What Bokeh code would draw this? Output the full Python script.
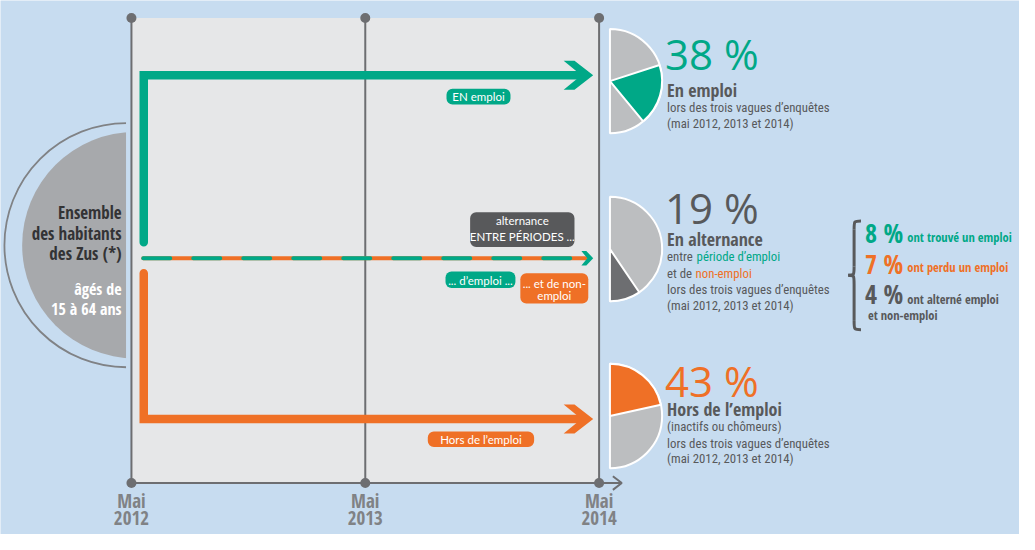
import re
from bokeh.plotting import figure
from bokeh.models import Range1d, BoxAnnotation
from bokeh.core.properties import value
from bokeh.embed import file_html
from bokeh.resources import INLINE

# ---------------- data ----------------
years = [2012, 2013, 2014]
group_names = ["En emploi", "En alternance", "Hors de l’emploi"]
group_pct = [38, 19, 43]
sub_pct = [8, 7, 4]
sub_labels = ["ont trouvé un emploi", "ont perdu un emploi", "ont alterné emploi"]

# ---------------- style ----------------
BG = "#c7dcf0"
PANEL = "#e6e7e8"
AXIS = "#6d6e71"
GREEN = "#00a887"
ORANGE = "#ef7026"
DGREY = "#58595b"
LGREY = "#bcbec0"
MGREY = "#a7a9ac"
DARKW = "#6d6e71"
LABG = "#808285"
F_BOLD = "Open Sans Condensed"
F_TXT = "Roboto Condensed"
F_BOX = "Lato"
REG = "Open Sans"

p = figure(width=1019, height=534, x_range=Range1d(0, 1035), y_range=Range1d(550, 0),
           output_backend="svg", toolbar_location=None, min_border=0,
           x_axis_location=None, y_axis_location=None)
p.grid.visible = False
p.outline_line_color = None
p.background_fill_color = BG
p.border_fill_color = BG


def txt(x, y, s, size, color, font, style="normal", align="left", top=False):
    r = p.text(x=[x], y=[y], text=[s], text_font=value(font), text_font_size=f"{size}px",
               text_color=color, text_font_style=style, text_align=align, text_baseline="middle")
    if top:
        r.level = "overlay"
    return r


# timeline geometry
x0, x1 = 133, 608
xs = [x0 + (y - years[0]) * (x1 - x0) / (years[-1] - years[0]) for y in years]
ytop, ybot = 18, 497

# left half disc
p.arc(x=[128], y=[252], radius=124, start_angle=90, end_angle=270, start_angle_units="deg",
      end_angle_units="deg", line_color=LABG, line_width=1.8)
p.wedge(x=[137], y=[252], radius=115, start_angle=90, end_angle=270, start_angle_units="deg",
        end_angle_units="deg", fill_color=MGREY, line_color=None)
p.quad(left=[127.5], right=[x0], top=[125], bottom=[380], fill_color=BG, line_color=None)
for i, s in enumerate(["Ensemble", "des habitants", "des Zus (*)"]):
    txt(123, 218 + 21.5 * i, s, 17, "#333335", F_BOLD, style="bold", align="right")
for i, s in enumerate(["âgés de", "15 à 64 ans"]):
    txt(123, 297 + 21 * i, s, 16, "white", F_BOLD, style="bold", align="right")

# panel
p.quad(left=[x0], right=[x1], top=[ytop], bottom=[ybot], fill_color=PANEL, line_color=None)
for x in xs:
    p.line([x, x], [ytop, ybot], line_color=AXIS, line_width=2)
p.line([x0, 630], [ybot, ybot], line_color=AXIS, line_width=2)
p.line([622, 631, 622], [490, ybot, 504], line_color=AXIS, line_width=2)
p.scatter(xs + xs, [ytop] * 3 + [ybot] * 3, size=10, fill_color=AXIS, line_color=None)

for x, yv in zip(xs, years):
    txt(x, 515, "Mai", 19, LABG, F_BOLD, style="bold", align="center")
    txt(x, 533, str(yv), 19, LABG, F_BOLD, style="bold", align="center")

# green arrow (en emploi)
p.line([145.5, 145.5, 588], [249, 77, 77], line_color=GREEN, line_width=8.5, line_join="miter",
       line_cap="round")
p.patch([572, 583, 602, 583, 572, 590], [62, 62, 77, 92, 92, 77], fill_color=GREEN, line_color=None)
# orange arrow (hors emploi)
p.line([145.5, 145.5, 588], [281, 431, 431], line_color=ORANGE, line_width=8.5, line_join="miter",
       line_cap="round")
p.patch([572, 583, 602, 583, 572, 590], [416, 416, 431, 446, 446, 431], fill_color=ORANGE, line_color=None)
# alternance dashed arrow
p.line([145, 594], [265.5, 265.5], line_color=ORANGE, line_width=4, line_cap="round")
p.line([145, 594], [265.5, 265.5], line_color=GREEN, line_width=4, line_dash="27 23", line_cap="round")
p.patch([590, 595, 602, 595, 590, 596], [258, 258, 265.5, 273, 273, 265.5], fill_color=GREEN, line_color=None)

# rounded label boxes
boxes = [
    (453, 518, 91, 107, GREEN, [("EN emploi", 99)]),
    (434, 542, 444, 460, ORANGE, [("Hors de l’emploi", 452)]),
    (477, 583, 218, 254, DGREY, [("alternance", 227), ("ENTRE PÉRIODES ...", 243)]),
    (452, 523, 279, 296, GREEN, [("... d’emploi ...", 288)]),
    (528, 597, 281, 312, ORANGE, [("... et de non-", 291), ("emploi", 304)]),
]
for l, r, t, b, c, lines in boxes:
    p.add_layout(BoxAnnotation(left=l, right=r, top=t, bottom=b, fill_color=c, fill_alpha=1,
                               line_color=None, border_radius=6))
    for s, yy in lines:
        txt((l + r) / 2, yy, s, 11.5, "white", F_BOX, align="center", top=True)

# pies on the right
pie_x = 619
pie_y = [83, 256, 428]
R = 53
colors = [GREEN, DARKW, ORANGE]
starts = [18 - group_pct[0] * 1.8, -90, 90 - group_pct[2] * 1.8]
for yc, c, st, v in zip(pie_y, colors, starts, group_pct):
    p.wedge(x=[pie_x], y=[yc], radius=R, start_angle=-90, end_angle=90, start_angle_units="deg",
            end_angle_units="deg", fill_color=LGREY, line_color="white", line_width=2)
    p.wedge(x=[pie_x], y=[yc], radius=R, start_angle=st, end_angle=st + v * 1.8,
            start_angle_units="deg", end_angle_units="deg", fill_color=c, line_color="white",
            line_width=2)

period = f"(mai {years[0]}, {years[1]}  et {years[2]})"
tx = 677
FS = 12.8
# block 1
txt(tx - 2, 55, f"{group_pct[0]} %", 42, GREEN, REG)
txt(tx, 92, group_names[0], 18, DGREY, F_BOLD, style="bold")
txt(tx, 110, "lors des trois vagues d’enquêtes", FS, DGREY, F_TXT)
txt(tx, 127, period, FS, DGREY, F_TXT)
# block 2
txt(tx - 2, 213, f"{group_pct[1]} %", 42, DGREY, REG)
txt(tx, 246, group_names[1], 18, DGREY, F_BOLD, style="bold")
txt(tx, 264, "entre", FS, DGREY, F_TXT)
txt(707, 264, "période d’emploi", FS, GREEN, F_TXT)
txt(tx, 281, "et de", FS, DGREY, F_TXT)
txt(706, 281, "non-emploi", FS, ORANGE, F_TXT)
txt(tx, 298, "lors des trois vagues d’enquêtes", FS, DGREY, F_TXT)
txt(tx, 314, period, FS, DGREY, F_TXT)
# block 3
txt(tx - 2, 391, f"{group_pct[2]} %", 42, ORANGE, REG)
txt(tx, 421, group_names[2], 18, DGREY, F_BOLD, style="bold")
txt(tx, 439, "(inactifs ou chômeurs)", FS, DGREY, F_TXT)
txt(tx, 456, "lors des trois vagues d’enquêtes", FS, DGREY, F_TXT)
txt(tx, 472, period, FS, DGREY, F_TXT)

# brace
p.bezier(x0=[874, 867, 861, 867], y0=[227, 274, 283, 330],
         x1=[867, 861, 867, 874], y1=[236, 283, 292, 339],
         cx0=[867, 867, 867, 867], cy0=[227, 283, 283, 339],
         cx1=[867, 867, 867, 867], cy1=[227, 283, 283, 339],
         line_color=DGREY, line_width=3)
p.line([867, 867], [236, 274], line_color=DGREY, line_width=3)
p.line([867, 867], [292, 330], line_color=DGREY, line_width=3)

sub_colors = [GREEN, ORANGE, DGREY]
sub_y = [239, 271, 302]
sub_ty = [244, 275, 308]
for v, s, c, yy, ty in zip(sub_pct, sub_labels, sub_colors, sub_y, sub_ty):
    txt(878, yy, f"{v} %", 26, c, F_BOLD, style="bold")
    txt(921, ty, s, 12.5, c, F_BOLD, style="bold")
txt(881, 324, "et non-emploi", 12.5, DGREY, F_BOLD, style="bold")

html = file_html(p, INLINE, title="Zus emploi")
html = re.sub(r"<body([^>]*)>", r'<body\1 style="background-color:%s;">' % BG, html, count=1)
open("out.html", "w").write(html)
